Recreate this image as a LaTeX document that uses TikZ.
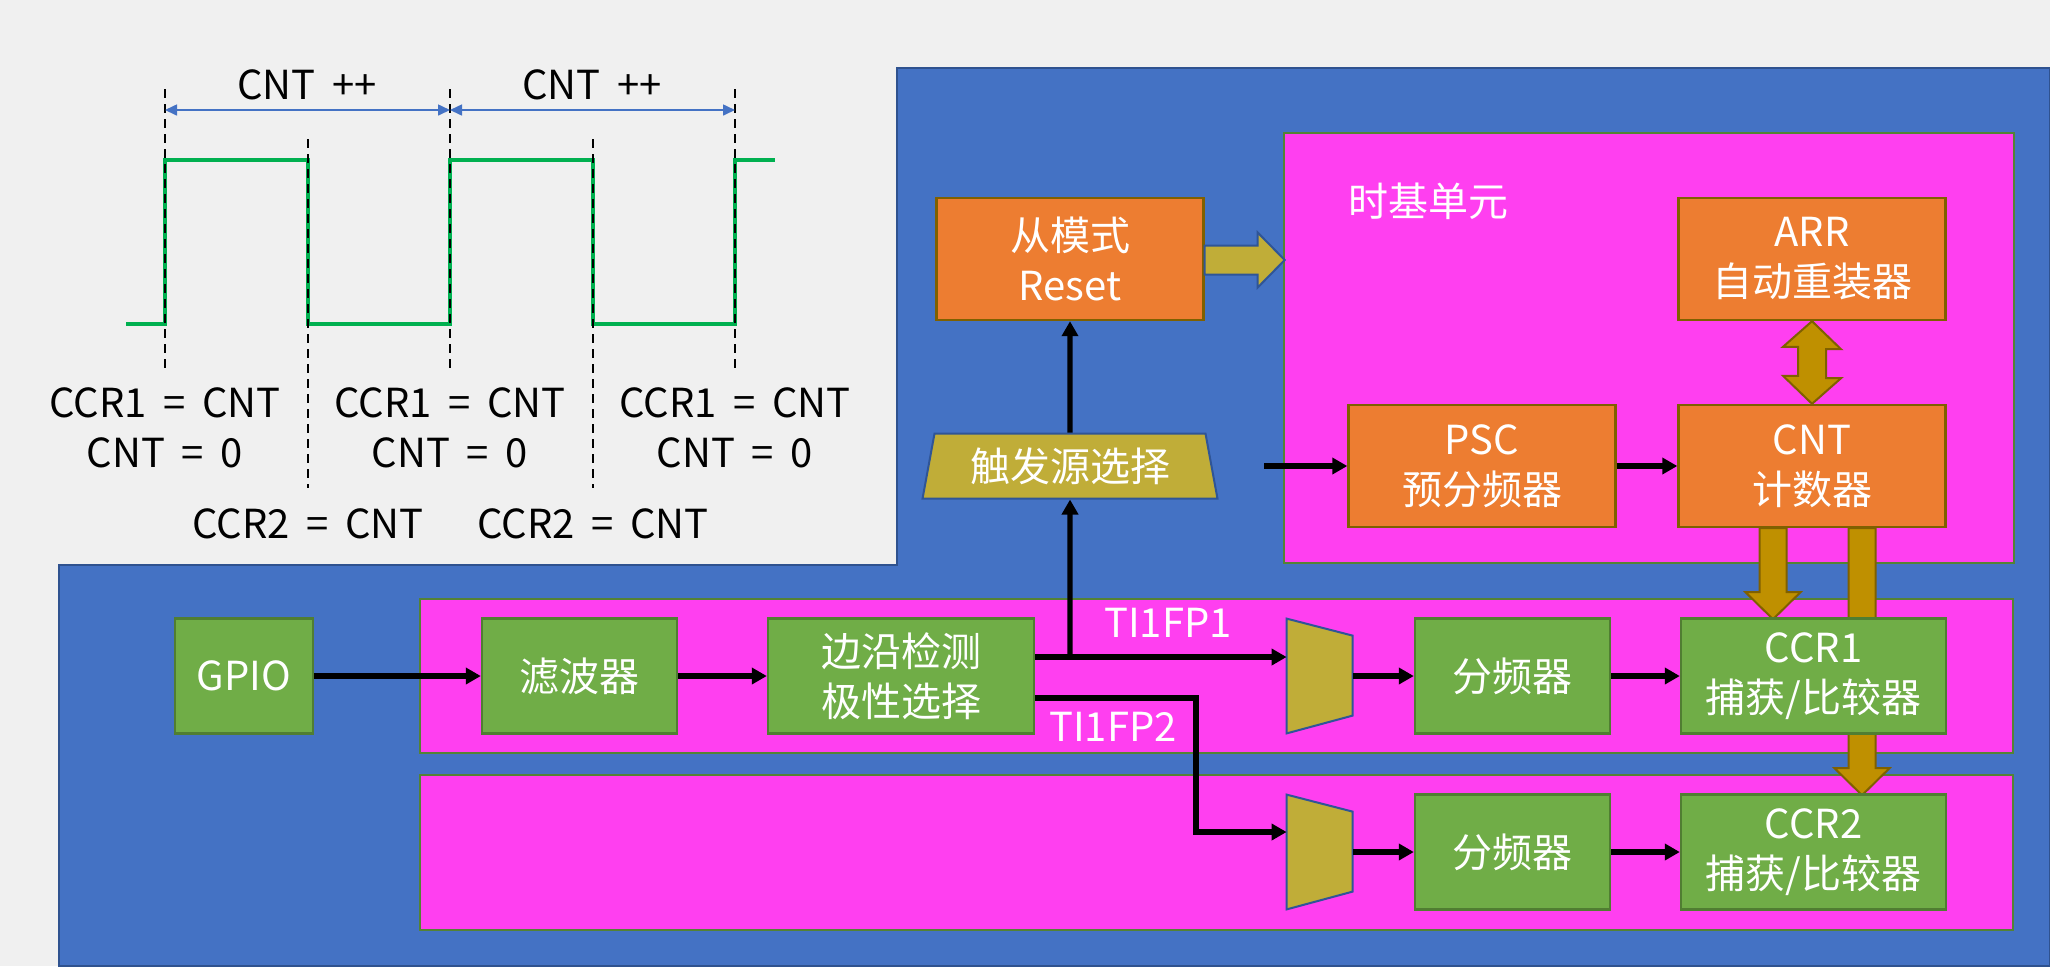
\documentclass[tikz,border=0pt]{standalone}
\usepackage{fontspec}
\setmainfont{Noto Sans CJK SC}
\usetikzlibrary{shapes.geometric, arrows.meta}
\definecolor{panel}{HTML}{F0F0F0}
\definecolor{chipblue}{HTML}{4472C4}
\definecolor{chipedge}{HTML}{2F528F}
\definecolor{unitpink}{HTML}{FF3FF0}
\definecolor{unitedge}{HTML}{548235}
\definecolor{regorange}{HTML}{ED7D31}
\definecolor{regedge}{HTML}{7F6000}
\definecolor{blkgreen}{HTML}{70AD47}
\definecolor{blkedge}{HTML}{507E32}
\definecolor{selolive}{HTML}{C0AD38}
\definecolor{seledge}{HTML}{2F5597}
\definecolor{busbrown}{HTML}{BF9000}
\definecolor{wave}{HTML}{00B050}

\begin{document}
\begin{tikzpicture}[
   x=0.5pt, y=-0.5pt,
   font=\fontsize{20}{25}\selectfont,
   orangebox/.style={rectangle, draw=regedge, fill=regorange, line width=1.2pt, text=white,
                     inner sep=0, minimum width=133.5pt, minimum height=61pt, align=center},
   greenbox/.style={rectangle, draw=blkedge, fill=blkgreen, line width=1.2pt, text=white,
                    inner sep=0, minimum height=57.5pt, align=center},
   unitbox/.style={draw=unitedge, fill=unitpink, line width=1.2pt},
   muxbox/.style={rectangle, inner sep=0, minimum width=33pt, minimum height=57pt},
   muxfill/.style={draw=seledge, fill=selolive, line width=1pt},
   trigbox/.style={trapezium, trapezium left angle=76.6, trapezium right angle=76.6,
                   trapezium stretches=true, draw=seledge, fill=selolive, line width=1pt,
                   text=white, inner sep=0, minimum width=147.5pt, minimum height=32.5pt},
   sig/.style={draw=black, line width=2.6pt, -{Triangle[length=7.5pt, width=8pt]}},
   span/.style={draw=chipblue, line width=0.8pt,
                {Triangle[length=6pt, width=5.5pt]}-{Triangle[length=6pt, width=5.5pt]}},
   busarrow/.style={draw=regedge, fill=busbrown, line width=1pt},
   bigarrow/.style={draw=seledge, fill=selolive, line width=1pt},
   timemark/.style={draw=black, line width=1pt, dash pattern=on 4.5pt off 3pt},
   wavetext/.style={execute at begin node={\spaceskip=0.42em\relax}}
  ]
  \useasboundingbox (0,0) rectangle (2050,966);

  % Background
  \fill[panel] (0,0) rectangle (2050,966);
  \filldraw[fill=chipblue, draw=chipedge, line width=1pt]
    (897,68) -- (2050,68) -- (2050,966) -- (59,966) -- (59,565) -- (897,565) -- cycle;
  \draw[unitbox] (1284,133) rectangle (2014,563);
  \draw[unitbox] (420,599) rectangle (2013,753);
  \draw[unitbox] (420,775) rectangle (2013,930);

  % Waveform
  \draw[wave, line width=2.2pt] (126,324) -- (165,324) -- (165,160) -- (308,160) -- (308,324)
    -- (450,324) -- (450,160) -- (593,160) -- (593,324) -- (735,324) -- (735,160) -- (775,160);
  \foreach \x in {165, 450, 735} \draw[timemark] (\x,89) -- (\x,370);
  \foreach \x in {308, 593} \draw[timemark] (\x,139) -- (\x,488);

  \coordinate (p0) at (165,110);
  \coordinate (p1) at (450,110);
  \coordinate (p2) at (735,110);
  \foreach \B/\E in {p0/p1, p1/p2} {
    \draw[span] (\B) -- (\E);
  }

  \node (inc1) at (307,85) [wavetext] {CNT ++};
  \node (inc2) at (592,85) [wavetext] {CNT ++};
  \foreach \x [count=\i] in {165, 450, 735}
    \node[wavetext, align=center] (cap\i) at (\x,428) {CCR1 = CNT\\CNT = 0};
  \foreach \x [count=\i] in {308, 593}
    \node[wavetext] (cmp\i) at (\x,524) {CCR2 = CNT};

  % Time base unit
  \node (tbutext) at (1428,201) [text=white] {时基单元};
  \node (slave) at (1070,259) [orangebox] {从模式\\Reset};
  \node (arr) at (1812,259) [orangebox] {ARR\\自动重装器};
  \node (psc) at (1482,466) [orangebox] {PSC\\预分频器};
  \node (cnt) at (1812,466) [orangebox] {CNT\\计数器};
  \node (trig) at (1070,466) [trigbox] {触发源选择};

  \filldraw[bigarrow] (slave.east) ++(0,-13.5) -- ++(53,0) -- ++(0,-13) -- ++(27,27.5)
    -- ++(-27,27.5) -- ++(0,-13) -- ++(-53,0) -- cycle;
  \filldraw[busarrow] (arr.south) -- ++(29,28) -- ++(-15,0) -- ++(0,29) -- ++(15,0) -- (cnt.north)
    -- ++(-29,-28) -- ++(15,0) -- ++(0,-29) -- ++(-15,0) -- cycle;
  \foreach \dx/\len in {-39/91, 50/267} {
    \filldraw[busarrow] (cnt.south) ++(\dx,0) ++(-13.5,0) -- ++(0,\len-27) -- ++(-14,0)
      -- ++(27.5,27) -- ++(27.5,-27) -- ++(-14,0) -- ++(0,-\len+27) -- cycle;
  }

  % Input channels
  \node (gpio) at (244,676) [greenbox, minimum width=69pt] {GPIO};
  \node (filt) at (579.5,676) [greenbox, minimum width=97.5pt] {滤波器};
  \node (polar) at (901,676) [greenbox, minimum width=133pt] {边沿检测\\极性选择};
  \node (mux1) at (1320,676) [muxbox] {};
  \node (div1) at (1512.5,676) [greenbox, minimum width=97.5pt] {分频器};
  \node (ccr1) at (1813.5,676) [greenbox, minimum width=132.5pt] {CCR1\\捕获/比较器};
  \node (mux2) at (1320,852) [muxbox] {};
  \node (div2) at (1512.5,852) [greenbox, minimum width=97.5pt] {分频器};
  \node (ccr2) at (1813.5,852) [greenbox, minimum width=132.5pt] {CCR2\\捕获/比较器};

  \foreach \M in {mux1, mux2} {
    \filldraw[muxfill] (\M.north west) -- ++(66,17) -- ++(0,80) -- (\M.south west) -- cycle;
  }

  \coordinate (tap) at (1070,657);
  \coordinate (fp2a) at (1196,698);
  \coordinate (fp2b) at (1196,832);
  \coordinate (pscin) at (1264,466);

  \foreach \B/\E in {gpio/filt, filt/polar, mux1/div1, div1/ccr1, mux2/div2, div2/ccr2, psc/cnt, trig/slave} {
    \draw[sig] (\B) -- (\E);
  }
  \draw[sig] (polar.east |- tap) -- (mux1.west |- tap);
  \draw[sig] (tap) -- (trig.south);
  \draw[sig] (polar.east |- fp2a) -- (fp2a) -- (fp2b) -- (mux2.west |- fp2b);
  \draw[sig] (pscin) -- (psc.west);

  \node (fp1txt) at (1168,623) [text=white] {TI1FP1};
  \node (fp2txt) at (1113,727) [text=white] {TI1FP2};

\end{tikzpicture}
\end{document}
